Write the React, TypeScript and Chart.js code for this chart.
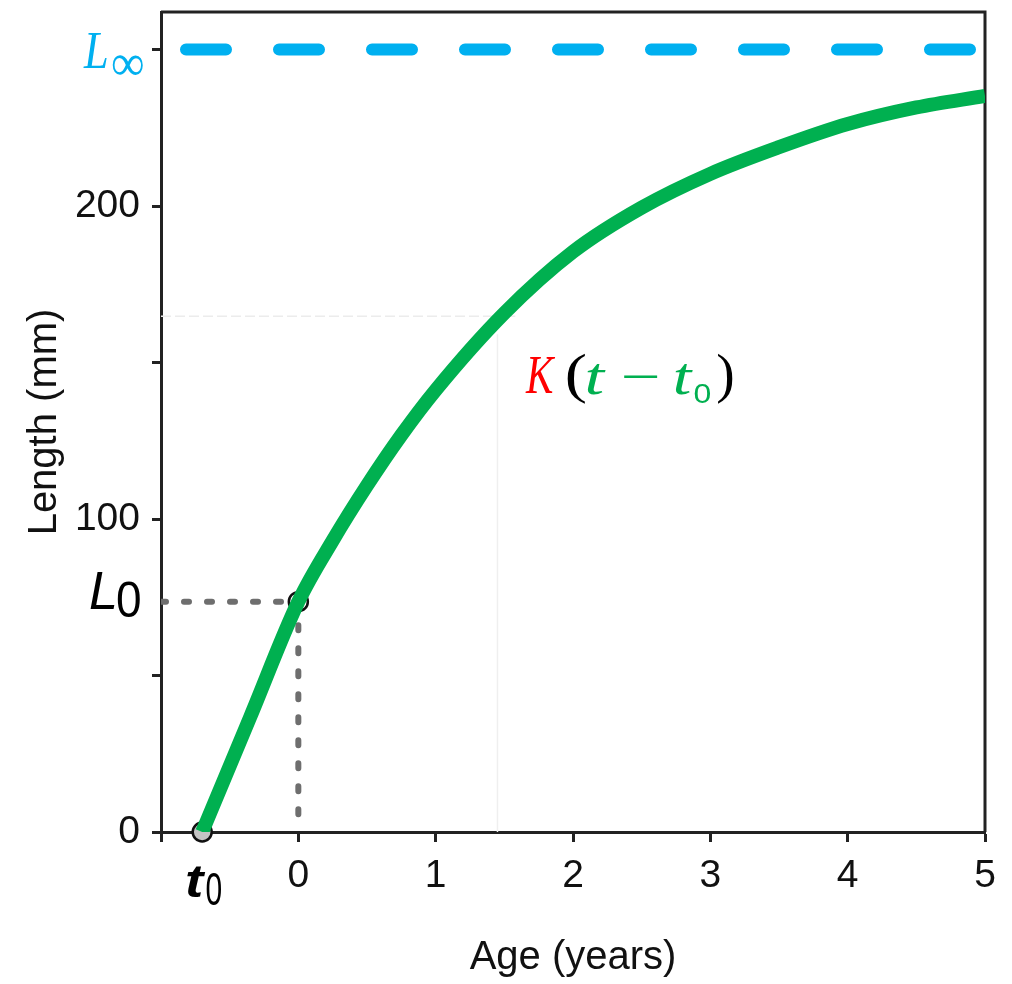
import React, { useEffect, useRef } from 'react';
import { Chart, registerables } from 'chart.js';

Chart.register(...registerables);

// ---- data ----
const curveAge = [-0.7, -0.35, 0, 0.25, 0.5, 0.75, 1.0, 1.5, 2.0, 2.5, 3.0, 3.5, 4.0, 4.5, 5.0];
const curveLength = [0, 36.8, 73.6, 93.1, 110.7, 126.8, 141.2, 165.8, 185.4, 199.5, 210.3, 218.8, 226.2, 231.5, 235.2];
const lInfinity = 250;
const t0Age = -0.7;
const l0Length = 73.6;
const xTicks = [-1, 0, 1, 2, 3, 4, 5];
const xTickLabels = ['', '0', '1', '2', '3', '4', '5'];
const yTicks = [0, 50, 100, 150, 200, 250];
const yTickLabels = ['0', '', '100', '', '200', ''];
const xRange = [-1, 5];
const yRange = [0, 262];
const faintAge = [1.45, 1.58];
const faintLength = [164.8, 159];
const kLabelAnchor = [1.66, 140];

const SANS = '"Liberation Sans", Arial, Helvetica, sans-serif';
const SERIF = '"Liberation Serif", "Times New Roman", serif';

function fitText(ctx: CanvasRenderingContext2D, text: string, font: string, color: string, left: number, top: number, right: number, bottom: number) {
  ctx.save();
  ctx.font = font;
  ctx.fillStyle = color;
  ctx.textAlign = 'left';
  ctx.textBaseline = 'alphabetic';
  const m = ctx.measureText(text);
  const w = m.actualBoundingBoxLeft + m.actualBoundingBoxRight;
  const h = m.actualBoundingBoxAscent + m.actualBoundingBoxDescent;
  ctx.translate(left, top);
  ctx.scale((right - left) / w, (bottom - top) / h);
  ctx.fillText(text, m.actualBoundingBoxLeft, m.actualBoundingBoxAscent);
  ctx.restore();
}

const framePlugin = {
  id: 'frame',
  beforeDatasetsDraw(chart: any) {
    const { ctx, chartArea: a } = chart;
    ctx.save();
    ctx.strokeStyle = '#222';
    ctx.lineWidth = 3;
    ctx.beginPath();
    ctx.moveTo(a.left, a.top);
    ctx.lineTo(a.right, a.top);
    ctx.lineTo(a.right, a.bottom);
    ctx.stroke();
    ctx.restore();
  },
};

const labelPlugin = {
  id: 'labels',
  afterDraw(chart: any) {
    const { ctx, chartArea: a, scales } = chart;
    const xs = scales.x;
    const ys = scales.y;
    // L∞
    const yInf = ys.getPixelForValue(lInfinity);
    fitText(ctx, 'L', `italic 50px ${SERIF}`, '#00B0F0', a.left - 78, yInf - 17, a.left - 54, yInf + 18);
    fitText(ctx, '∞', `44px ${SERIF}`, '#00B0F0', a.left - 49, yInf + 5, a.left - 18, yInf + 26);
    // L0
    const yL0 = ys.getPixelForValue(l0Length);
    fitText(ctx, 'L', `italic 50px ${SANS}`, '#000', a.left - 71, yL0 - 30, a.left - 46, yL0 + 7);
    fitText(ctx, '0', `48px ${SANS}`, '#000', a.left - 44, yL0 - 20, a.left - 21, yL0 + 15);
    // t0
    const xT0 = xs.getPixelForValue(t0Age);
    fitText(ctx, 't', `italic bold 44px ${SANS}`, '#000', xT0 - 16, a.bottom + 33, xT0 + 4, a.bottom + 65);
    fitText(ctx, '0', `40px ${SANS}`, '#000', xT0 + 4, a.bottom + 41, xT0 + 19, a.bottom + 73);
    // K(t − t0)
    const kx = xs.getPixelForValue(kLabelAnchor[0]);
    const ky = ys.getPixelForValue(kLabelAnchor[1]);
    const g = '#00B050';
    fitText(ctx, 'K', `italic 52px ${SERIF}`, '#FF0000', kx - 1, ky - 38, kx + 29, ky - 1);
    fitText(ctx, '(', `52px ${SERIF}`, '#000', kx + 41, ky - 41, kx + 59, ky + 11);
    fitText(ctx, 't', `italic 52px ${SERIF}`, g, kx + 61, ky - 31, kx + 80, ky + 1);
    fitText(ctx, '−', `52px ${SERIF}`, g, kx + 97, ky - 19, kx + 131, ky - 15);
    fitText(ctx, 't', `italic 52px ${SERIF}`, g, kx + 149, ky - 31, kx + 167, ky + 1);
    fitText(ctx, '0', `36px ${SANS}`, g, kx + 168, ky - 11, kx + 184, ky + 9);
    fitText(ctx, ')', `52px ${SERIF}`, '#000', kx + 191, ky - 41, kx + 207, ky + 11);
  },
};

export default function App() {
  const ref = useRef<HTMLCanvasElement | null>(null);
  useEffect(() => {
    const canvas = ref.current;
    if (!canvas) return;
    const chart = new Chart(canvas, {
      type: 'line',
      data: {
        datasets: [
          {
            label: 'growth',
            data: curveAge.map((x, i) => ({ x, y: curveLength[i] })),
            borderColor: '#00B050',
            borderWidth: 14,
            pointRadius: 0,
            cubicInterpolationMode: 'monotone',
            borderCapStyle: 'butt',
            borderJoinStyle: 'round',
            fill: false,
            order: 0,
          } as any,
          {
            label: 'points',
            data: [{ x: t0Age, y: 0 }, { x: 0, y: l0Length }],
            showLine: false,
            pointRadius: 9.5,
            pointBackgroundColor: ['#c4c4c4', 'rgba(255,255,255,0)'],
            pointBorderColor: '#111',
            pointBorderWidth: 2.5,
            clip: false,
            order: 1,
          } as any,
          {
            label: 'L0 guide',
            data: [{ x: xRange[0], y: l0Length }, { x: 0, y: l0Length }, { x: 0, y: 0 }],
            borderColor: '#6e6e6e',
            borderWidth: 6,
            borderDash: [5, 18],
            borderCapStyle: 'round',
            pointRadius: 0,
            tension: 0,
            order: 2,
          } as any,
          {
            label: 'L infinity',
            data: [{ x: xRange[0], y: lInfinity }, { x: xRange[1], y: lInfinity }],
            borderColor: '#00B0F0',
            borderWidth: 12,
            borderDash: [40, 53],
            borderDashOffset: 68,
            borderCapStyle: 'round',
            pointRadius: 0,
            order: 3,
          } as any,
          {
            label: 'faint h',
            data: [{ x: xRange[0], y: faintLength[0] }, { x: faintAge[1], y: faintLength[0] }],
            borderColor: '#ececec',
            borderWidth: 1.5,
            borderDash: [10, 4],
            pointRadius: 0,
            order: 4,
          } as any,
          {
            label: 'faint v',
            data: [{ x: faintAge[0], y: faintLength[1] }, { x: faintAge[0], y: 0 }],
            borderColor: '#efefef',
            borderWidth: 1.5,
            pointRadius: 0,
            order: 4,
          } as any,
        ],
      },
      options: {
        animation: false,
        responsive: false,
        devicePixelRatio: 1,
        layout: { padding: { left: 0, right: 27, top: 7, bottom: 0 } },
        plugins: { legend: { display: false }, tooltip: { enabled: false } },
        scales: {
          x: {
            type: 'linear',
            min: xRange[0],
            max: xRange[1],
            afterBuildTicks: (s: any) => {
              s.ticks = xTicks.map((v) => ({ value: v }));
            },
            ticks: {
              callback: (_v: any, i: number) => xTickLabels[i] ?? '',
              font: { family: SANS, size: 39 },
              color: '#111',
              padding: 11,
              maxRotation: 0,
              autoSkip: false,
            },
            grid: { drawOnChartArea: false, drawTicks: true, tickLength: 10, tickWidth: 3, tickColor: '#222' },
            border: { display: true, color: '#222', width: 3 },
            title: { display: true, text: 'Age (years)', font: { family: SANS, size: 40 }, color: '#111', padding: { top: 0, bottom: 2 } },
            afterFit: (s: any) => {
              s.height = 152;
              s.paddingLeft = 0;
              s.paddingRight = 0;
            },
          },
          y: {
            type: 'linear',
            min: yRange[0],
            max: yRange[1],
            afterBuildTicks: (s: any) => {
              s.ticks = yTicks.map((v) => ({ value: v }));
            },
            ticks: {
              callback: (_v: any, i: number) => yTickLabels[i] ?? '',
              font: { family: SANS, size: 39 },
              color: '#111',
              padding: 12,
              autoSkip: false,
            },
            grid: { drawOnChartArea: false, drawTicks: true, tickLength: 9, tickWidth: 3, tickColor: '#222' },
            border: { display: true, color: '#222', width: 3 },
            title: { display: true, text: 'Length (mm)', font: { family: SANS, size: 40 }, color: '#111', padding: { top: 21, bottom: 0 } },
            afterFit: (s: any) => {
              s.width = 161;
              s.paddingTop = 0;
              s.paddingBottom = 0;
            },
          },
        },
      } as any,
      plugins: [framePlugin, labelPlugin],
    });
    return () => chart.destroy();
  }, []);
  return (
    <div style={{ position: 'fixed', left: 0, top: 0, width: 1012, height: 984, background: '#fff' }}>
      <canvas ref={ref} width={1012} height={984} style={{ display: 'block' }} />
    </div>
  );
}
